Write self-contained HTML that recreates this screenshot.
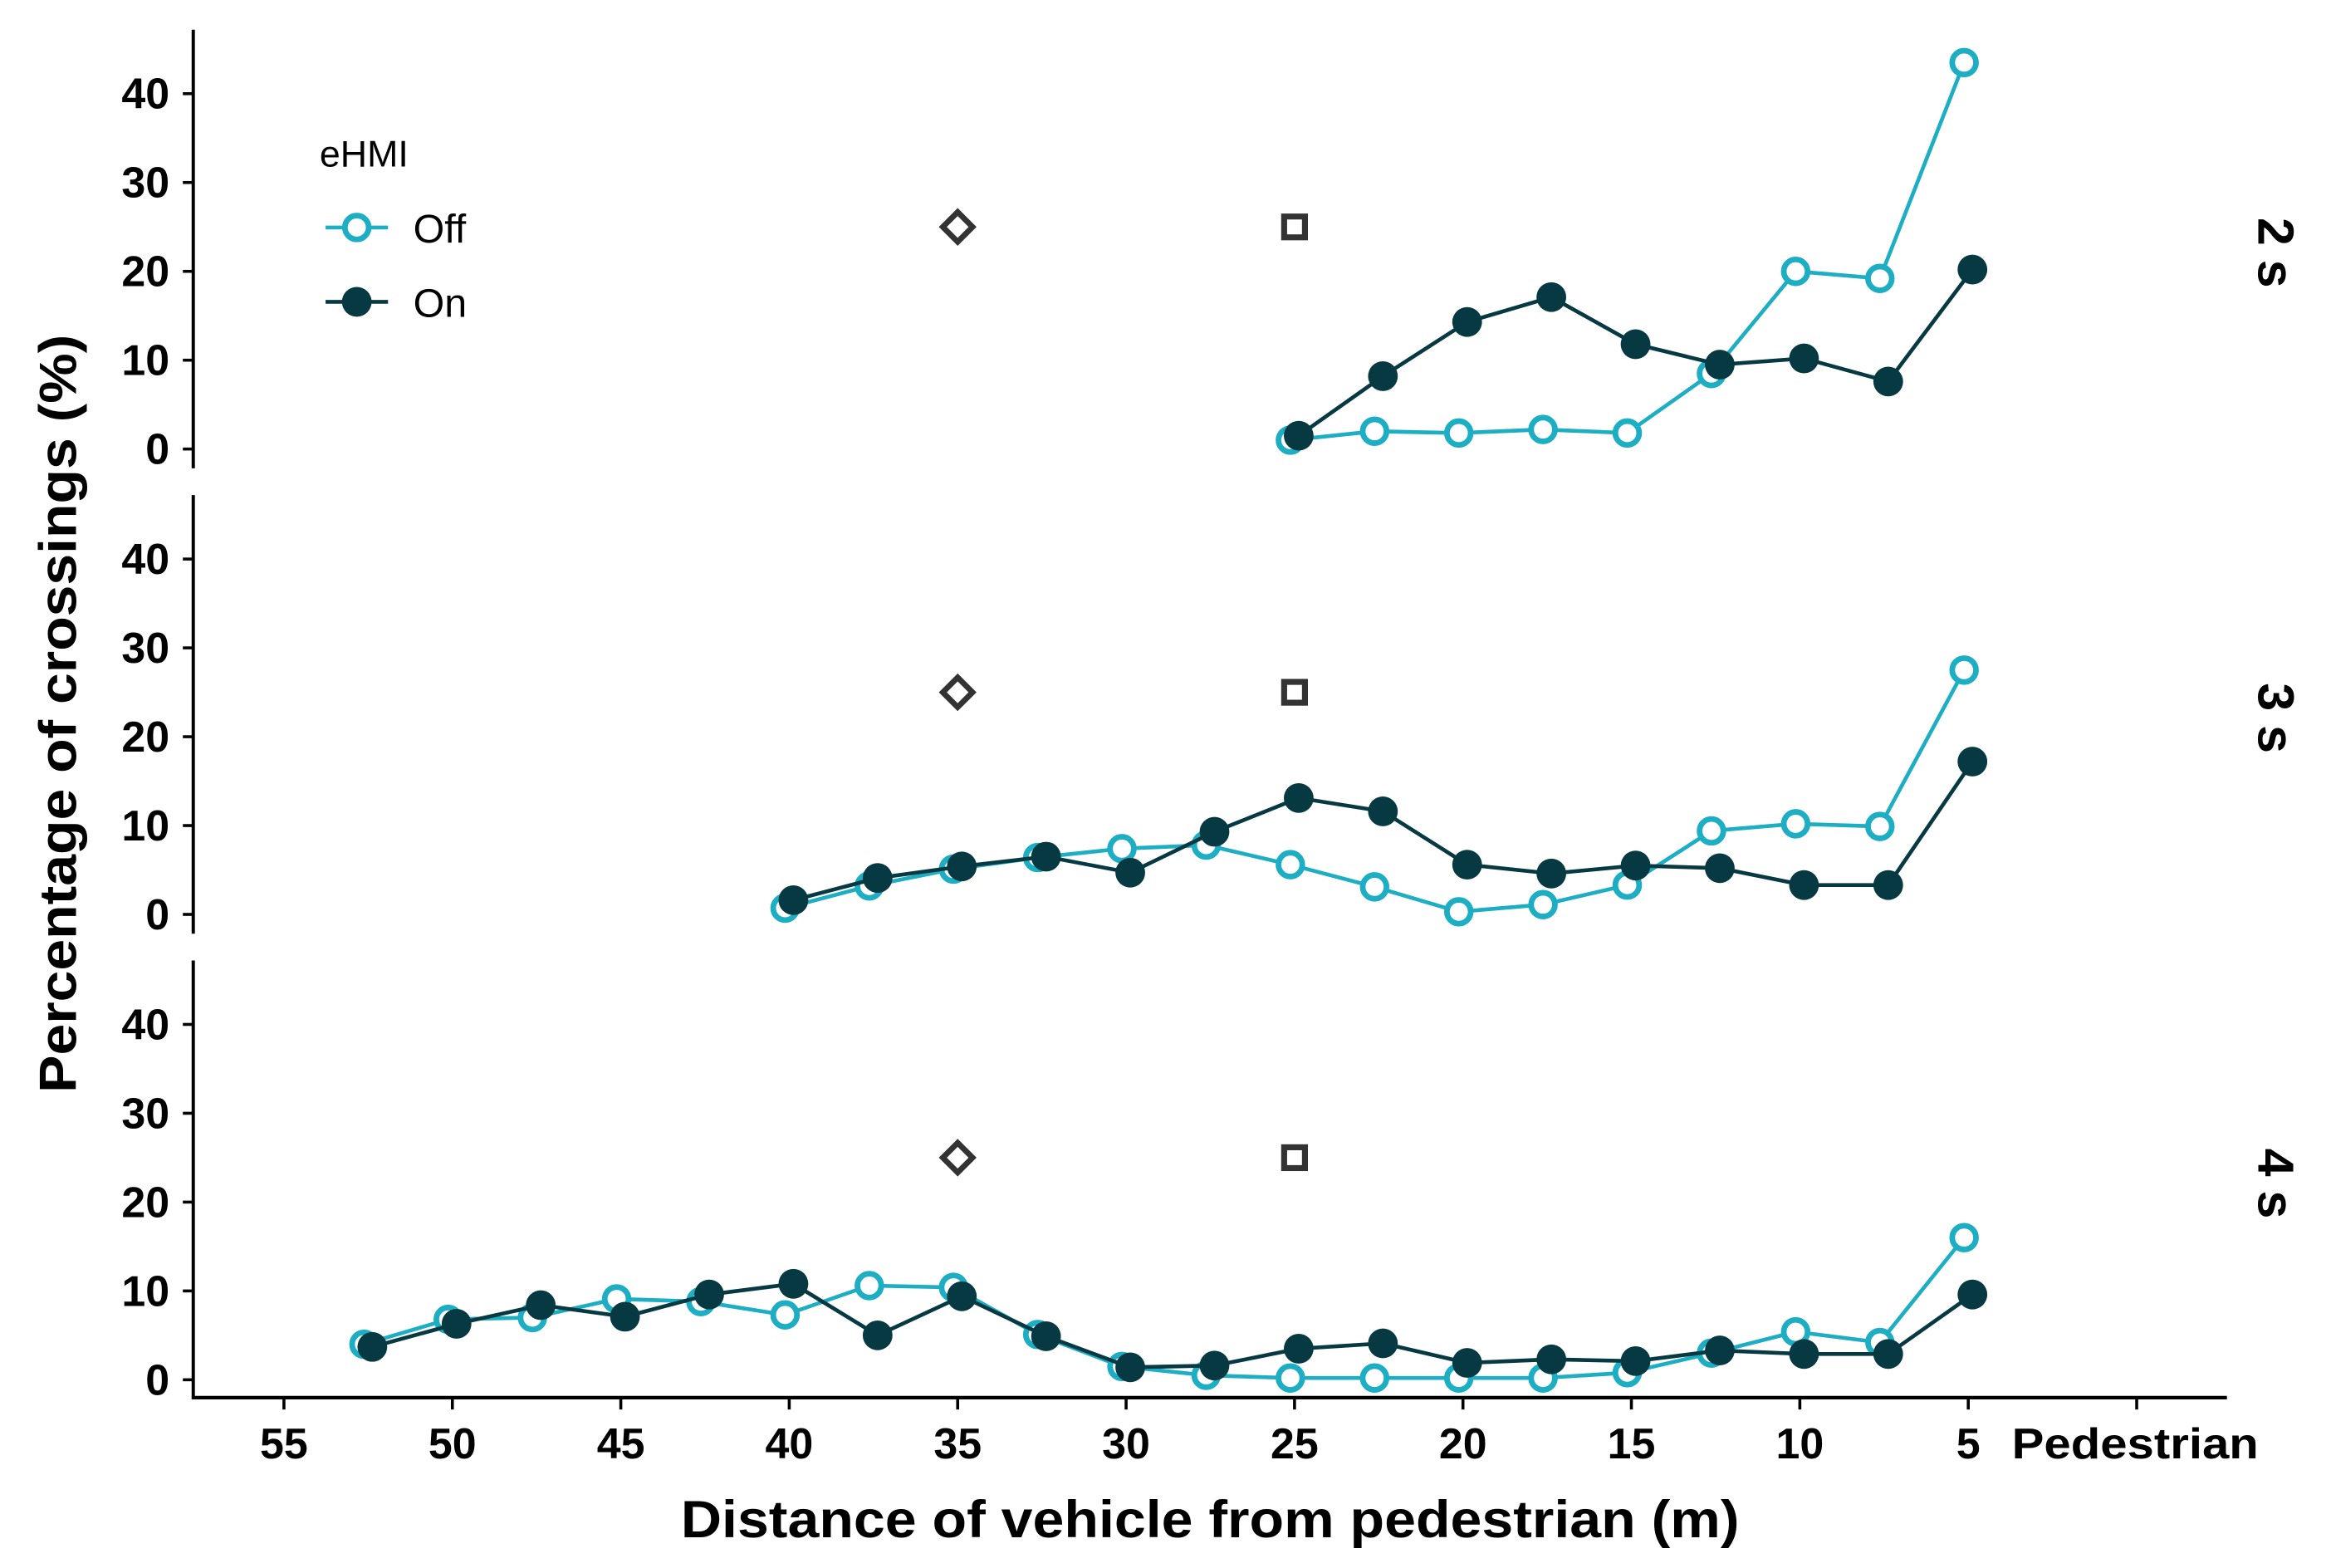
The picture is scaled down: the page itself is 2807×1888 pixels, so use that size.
<!DOCTYPE html>
<html><head><meta charset="utf-8"><style>html,body{margin:0;padding:0;background:#fff}svg{display:block}</style></head>
<body>
<svg id="chart" xmlns="http://www.w3.org/2000/svg" width="2807" height="1888" viewBox="0 0 1568 1054.6" preserveAspectRatio="none" font-family="'Liberation Sans', sans-serif">
<rect width="1568" height="1054.6" fill="#fff"/>
<g id="g"></g>
</svg>
<script>
const panels = ["2 s", "3 s", "4 s"];
const distances = [52.5,50,47.5,45,42.5,40,37.5,35,32.5,30,27.5,25,22.5,20,17.5,15,12.5,10,7.5,5];
const off2 = [null,null,null,null,null,null,null,null,null,null,null,1,2,1.8,2.2,1.8,8.5,20,19.2,43.5];
const on2  = [null,null,null,null,null,null,null,null,null,null,null,1.5,8.2,14.3,17.1,11.8,9.5,10.2,7.6,20.2];
const off3 = [null,null,null,null,null,0.7,3.2,5.1,6.4,7.4,7.8,5.6,3.1,0.3,1.1,3.3,9.4,10.2,9.9,27.5];
const on3  = [null,null,null,null,null,1.6,4.1,5.4,6.5,4.7,9.3,13.1,11.6,5.6,4.6,5.5,5.2,3.3,3.3,17.2];
const off4 = [4.0,6.8,7.0,9.1,8.8,7.3,10.6,10.4,5.1,1.5,0.5,0.2,0.2,0.2,0.2,0.8,3.0,5.4,4.2,16.0];
const on4  = [3.7,6.3,8.4,7.1,9.6,10.8,5.0,9.4,4.9,1.4,1.6,3.5,4.1,1.9,2.3,2.1,3.3,2.9,2.9,9.6];
const yTicks = [0,10,20,30,40];
const xTicks = [55,50,45,40,35,30,25,20,15,10,5,0];
const xTickLabels = ["55","50","45","40","35","30","25","20","15","10","5","Pedestrian"];
const markerDiamondX = 35, markerSquareX = 25, markerY = 25;

const NS="http://www.w3.org/2000/svg";
const g=document.getElementById('g');
function el(tag,attrs,parent){const e=document.createElementNS(NS,tag);for(const k in attrs)e.setAttribute(k,attrs[k]);(parent||g).appendChild(e);return e;}
const xS = d => 1324 + (5 - d) * 22.66;
const zeros=[302,615,928];
const yS = (v,p) => zeros[p] - v*5.975;
const OFF="#1eaec3", ON="#073943";
const offData=[off2,off3,off4], onData=[on2,on3,on4];

panels.forEach((name,p)=>{
  const pg=el('g',{});
  
  
  const ax=el('line',{x1:130,x2:130,y1:zeros[p]-282,y2:zeros[p]+13,stroke:'#000','stroke-width':2.2},pg);
  
  
  yTicks.forEach(t=>{
    el('line',{x1:123,x2:130,y1:yS(t,p),y2:yS(t,p),stroke:'#000','stroke-width':2},pg);
    const tx=el('text',{x:114,y:yS(t,p)+10,'text-anchor':'end','font-size':29,'font-weight':'bold',fill:'#000'},pg);
    tx.textContent=t;
    
    
  });
  const st=el('text',{transform:`translate(1519 ${zeros[p]-132}) rotate(90)`,'text-anchor':'middle','font-size':34,'font-weight':'bold',fill:'#000'},pg);
  st.textContent=name;
  
  
  const dx=xS(markerDiamondX), my=yS(markerY,p);
  const dm=el('path',{d:`M${dx} ${my-10}L${dx+10} ${my}L${dx} ${my+10}L${dx-10} ${my}Z`,fill:'none',stroke:'#333','stroke-width':3.8},pg);
  
  
  const sx=xS(markerSquareX);
  const sq=el('rect',{x:sx-7,y:my-7,width:14,height:14,fill:'none',stroke:'#333','stroke-width':4},pg);
  
  
  [[offData[p],OFF,-2.8,'off'],[onData[p],ON,2.8,'on']].forEach(([vals,col,dd,key])=>{
    const pts=[];
    vals.forEach((v,i)=>{ if(v!==null) pts.push([xS(distances[i])+dd,yS(v,p)]); });
    const ln=el('polyline',{points:pts.map(q=>q.join(',')).join(' '),fill:'none',stroke:col,'stroke-width':2.6},pg);
    
    
    pts.forEach(q=>{
      const c= key==='off'
        ? el('circle',{cx:q[0],cy:q[1],r:8,fill:'#fff',stroke:col,'stroke-width':3.8},pg)
        : el('circle',{cx:q[0],cy:q[1],r:10,fill:col},pg);
      
      
    });
  });
});
const xa=el('line',{x1:129,x2:1498,y1:940,y2:940,stroke:'#000','stroke-width':2.4});


xTicks.forEach((t,i)=>{
  el('line',{x1:xS(t),x2:xS(t),y1:940,y2:948,stroke:'#000','stroke-width':2});
  const last=i===xTicks.length-1;
  const tx=el('text',{x:last?xS(t)-84:xS(t),y:981,'text-anchor':last?'start':'middle','font-size':29,'font-weight':'bold',fill:'#000'});
  if(last){ tx.setAttribute('textLength',166); tx.setAttribute('lengthAdjust','spacingAndGlyphs'); }
  tx.textContent=xTickLabels[i];
  
  
});
const xt=el('text',{x:814,y:1034,'text-anchor':'middle','font-size':35,'font-weight':'bold',fill:'#000',textLength:712,lengthAdjust:'spacingAndGlyphs'});
xt.textContent='Distance of vehicle from pedestrian (m)';


const yt=el('text',{transform:'translate(51 480) rotate(-90)','text-anchor':'middle','font-size':35,'font-weight':'bold',fill:'#000',textLength:510,lengthAdjust:'spacingAndGlyphs'});
yt.textContent='Percentage of crossings (%)';


const lg=el('g',{});


const lt=el('text',{x:215,y:112,'font-size':25,fill:'#000'},lg);
lt.textContent='eHMI';


[['Off',OFF,153,'off'],['On',ON,203,'on']].forEach(([lab,col,y,key])=>{
  el('line',{x1:219,x2:261,y1:y,y2:y,stroke:col,'stroke-width':2.6},lg);
  if(key==='off') el('circle',{cx:240,cy:y,r:8,fill:'#fff',stroke:col,'stroke-width':3.8},lg);
  else el('circle',{cx:240,cy:y,r:10,fill:col},lg);
  const t=el('text',{x:278,y:y+10,'font-size':27,fill:'#000'},lg);
  t.textContent=lab;
  
  
});
</script>
</body></html>
